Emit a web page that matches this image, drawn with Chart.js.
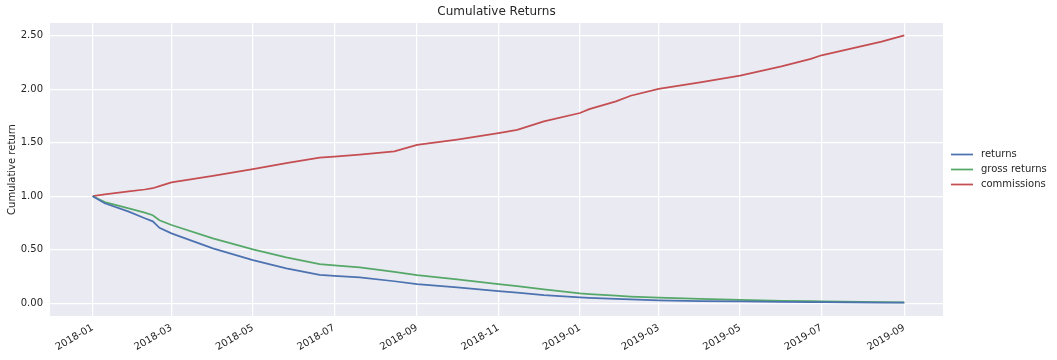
<!DOCTYPE html>
<html>
<head>
<meta charset="utf-8">
<script src="https://cdn.jsdelivr.net/npm/chart.js@4/dist/chart.umd.min.js"></script>
<style>
  body { margin: 0; background: #fff; }
  canvas { display: block; }
</style>
</head>
<body>
<canvas id="grafico" width="1057" height="360"></canvas>
<script>
// data
const dates = ['2018-01-01','2018-01-10','2018-01-28','2018-02-09','2018-02-15','2018-02-20','2018-03-01',
  '2018-04-01','2018-05-01','2018-05-26','2018-06-20','2018-07-01','2018-07-20','2018-08-15','2018-09-01',
  '2018-10-01','2018-11-01','2018-11-15','2018-12-05','2019-01-01','2019-01-08','2019-01-28','2019-02-08',
  '2019-03-01','2019-04-01','2019-05-01','2019-06-01','2019-06-23','2019-07-01','2019-08-15','2019-09-01'];

const returns = [1.00, 0.934, 0.856, 0.794, 0.765, 0.705, 0.653, 0.512, 0.403, 0.325, 0.265, 0.256, 0.241,
  0.205, 0.178, 0.148, 0.112, 0.098, 0.075, 0.055, 0.050, 0.040, 0.035, 0.026, 0.020, 0.016, 0.012, 0.010,
  0.009, 0.006, 0.004];

const grossReturns = [1.00, 0.945, 0.887, 0.846, 0.822, 0.775, 0.731, 0.606, 0.503, 0.428, 0.365, 0.353, 0.334,
  0.292, 0.262, 0.222, 0.178, 0.160, 0.128, 0.091, 0.085, 0.070, 0.062, 0.052, 0.040, 0.030, 0.022, 0.018,
  0.016, 0.010, 0.007];

const commissions = [1.00, 1.018, 1.045, 1.063, 1.075, 1.095, 1.130, 1.190, 1.253, 1.310, 1.360, 1.370, 1.390,
  1.420, 1.480, 1.530, 1.590, 1.620, 1.700, 1.778, 1.815, 1.887, 1.940, 2.003, 2.065, 2.127, 2.215, 2.284,
  2.318, 2.445, 2.505];

const seriesNames = ['returns', 'gross returns', 'commissions'];
const xTickLabels = ['2018-01','2018-03','2018-05','2018-07','2018-09','2018-11',
  '2019-01','2019-03','2019-05','2019-07','2019-09'];
const yTickValues = [0, 0.5, 1.0, 1.5, 2.0, 2.5];
const xLimits = ['2017-11-30', '2019-09-30'];
const yLimits = [-0.12, 2.62];

const cores = ['#4C72B0', '#55A868', '#C44E52'];
const txt = '#262626';
const fonte = 'DejaVu Sans';

// dias desde 2018-01-01
function dia(s) {
  const p = s.split('-').map(Number);
  return (Date.UTC(p[0], p[1] - 1, p[2] || 1) - Date.UTC(2018, 0, 1)) / 86400000;
}
function pontos(vals) {
  return dates.map((d, i) => ({ x: dia(d), y: vals[i] }));
}
const nomePorDia = {};
xTickLabels.forEach(l => { nomePorDia[dia(l)] = l; });

const fundo = {
  id: 'fundo',
  beforeDraw(chart) {
    const a = chart.chartArea, c = chart.ctx;
    c.save();
    c.fillStyle = '#EAEAF2';
    c.fillRect(a.left, a.top, a.right - a.left, a.bottom - a.top);
    c.restore();
  }
};

// legenda desenhada a mão, fora do gráfico, à direita
const legenda = {
  id: 'legenda',
  afterDraw(chart) {
    const a = chart.chartArea, c = chart.ctx;
    const ds = chart.data.datasets;
    const cy = (a.top + a.bottom) / 2;
    const x0 = a.right + 8;
    c.save();
    c.font = '10px "' + fonte + '"';
    c.textBaseline = 'middle';
    c.textAlign = 'left';
    ds.forEach((d, i) => {
      const y = cy + (i - (ds.length - 1) / 2) * 15;
      c.strokeStyle = d.borderColor;
      c.lineWidth = 1.75;
      c.beginPath();
      c.moveTo(x0, y);
      c.lineTo(x0 + 22, y);
      c.stroke();
      c.fillStyle = txt;
      c.fillText(d.label, x0 + 30, y);
    });
    c.restore();
  }
};

new Chart(document.getElementById('grafico'), {
  type: 'line',
  data: {
    datasets: [
      { label: seriesNames[0], data: pontos(returns), borderColor: cores[0] },
      { label: seriesNames[1], data: pontos(grossReturns), borderColor: cores[1] },
      { label: seriesNames[2], data: pontos(commissions), borderColor: cores[2] }
    ]
  },
  options: {
    responsive: false,
    animation: false,
    elements: {
      point: { radius: 0 },
      line: { borderWidth: 1.75, tension: 0, fill: false }
    },
    layout: { padding: { left: 0, right: 114, top: 0, bottom: 0 } },
    plugins: {
      legend: { display: false },
      tooltip: { enabled: false },
      title: {
        display: true,
        text: 'Cumulative Returns',
        fullSize: false,
        color: txt,
        font: { family: fonte, size: 12, weight: 'normal' },
        padding: { top: 5, bottom: 3.6 }
      }
    },
    scales: {
      x: {
        type: 'linear',
        min: dia(xLimits[0]),
        max: dia(xLimits[1]),
        border: { display: false },
        grid: { color: '#ffffff', lineWidth: 1.25, drawTicks: false },
        afterBuildTicks: s => { s.ticks = xTickLabels.map(l => ({ value: dia(l) })); },
        afterFit: s => { s.height = 44; },
        ticks: {
          autoSkip: false,
          minRotation: 30,
          maxRotation: 30,
          padding: 6,
          color: txt,
          font: { family: fonte, size: 10 },
          callback: v => nomePorDia[v] || ''
        }
      },
      y: {
        min: yLimits[0],
        max: yLimits[1],
        border: { display: false },
        grid: { color: '#ffffff', lineWidth: 1.25, drawTicks: false },
        afterBuildTicks: s => { s.ticks = yTickValues.map(v => ({ value: v })); },
        afterFit: s => { s.width = 50; },
        title: {
          display: true,
          text: 'Cumulative return',
          color: txt,
          font: { family: fonte, size: 10 },
          padding: { top: 6, bottom: 0 }
        },
        ticks: {
          padding: 7,
          color: txt,
          font: { family: fonte, size: 10 },
          callback: v => Number(v).toFixed(2)
        }
      }
    }
  },
  plugins: [fundo, legenda]
});
</script>
</body>
</html>
